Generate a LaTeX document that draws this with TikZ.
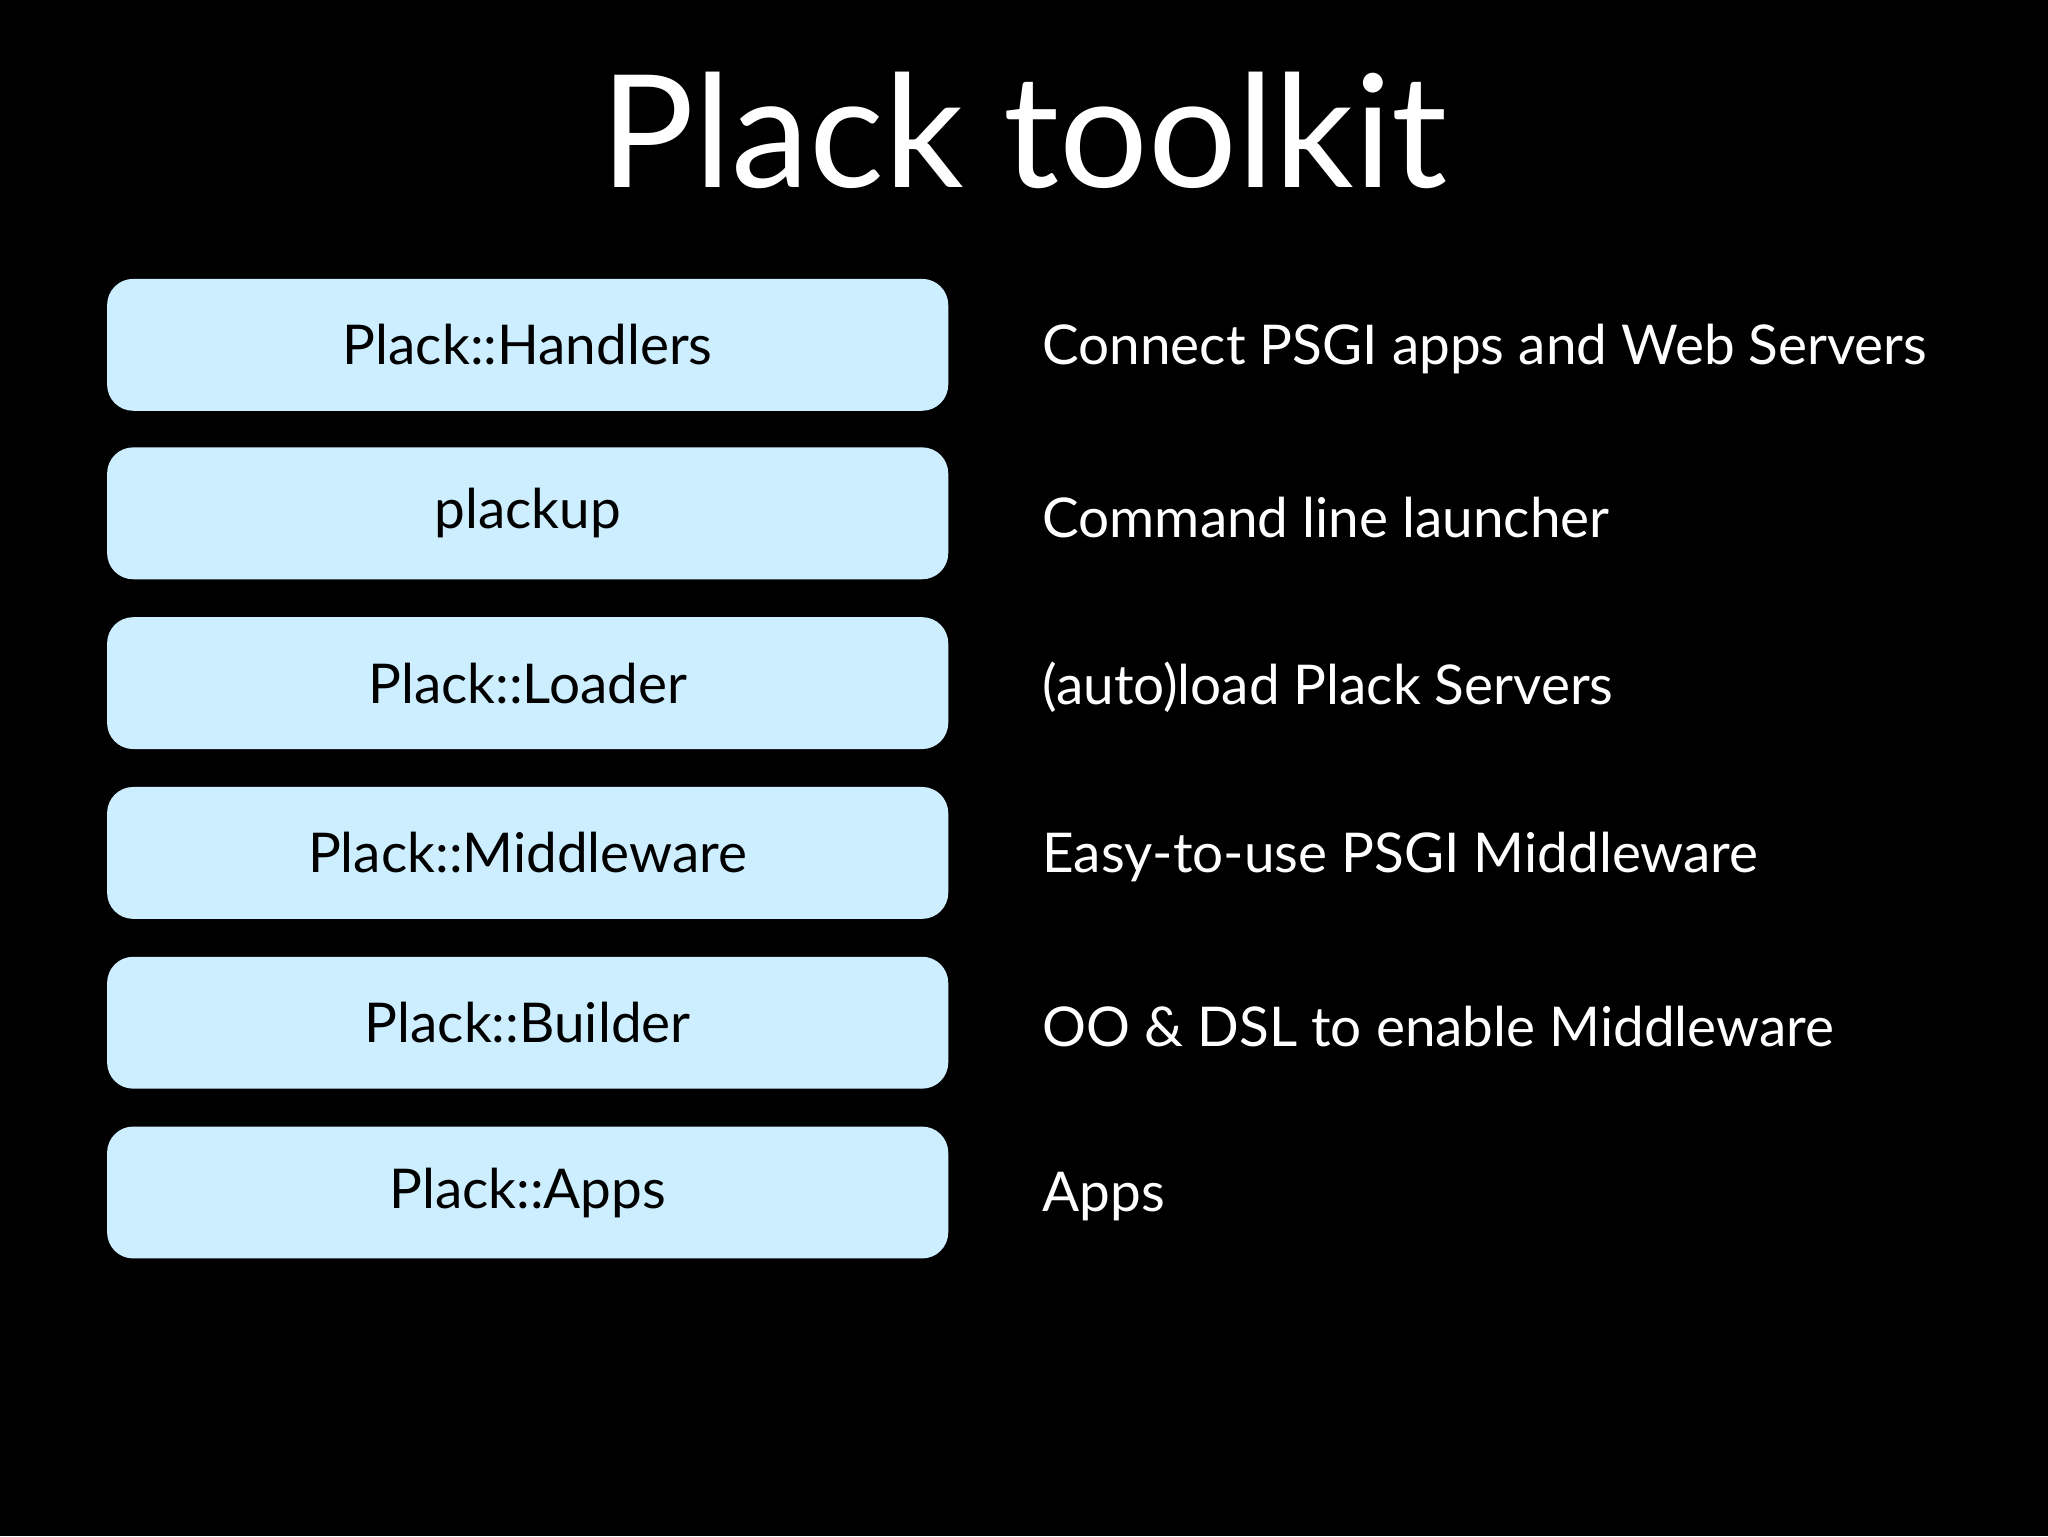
\documentclass[tikz,border=0pt]{standalone}
\usepackage{fontspec}
\setmainfont{Lato}
\definecolor{boxblue}{HTML}{CCEEFF}
\tikzset{
  layer/.style={fill=boxblue, rounded corners=20pt, minimum width=644pt, minimum height=101pt, font=\fontsize{42}{48}\selectfont, text=black},
  desc/.style={anchor=west, text=white, font=\fontsize{42}{48}\selectfont, inner sep=0pt}
}
\begin{document}
\begin{tikzpicture}[x=1pt,y=-1pt]
\fill[black] (0,0) rectangle (1568,1176);
\useasboundingbox (0,0) rectangle (1568,1176);
\node[text=white, font=\fontsize{120}{130}\selectfont] (title) at (784,100) {Plack toolkit};
\foreach \n/\y/\a/\b in {h/264/Plack::Handlers/Connect PSGI apps and Web Servers,
  p/393/plackup/Command line launcher,
  l/523/Plack::Loader/(auto)load Plack Servers,
  m/653/Plack::Middleware/Easy-to-use PSGI Middleware,
  b/783/Plack::Builder/OO \& DSL to enable Middleware,
  a/913/Plack::Apps/Apps}{
  \node[layer] (box\n) at (404,\y) {\a};
  \node[desc] (desc\n) at (798,\y+3) {\b};
}
\end{tikzpicture}
\end{document}
